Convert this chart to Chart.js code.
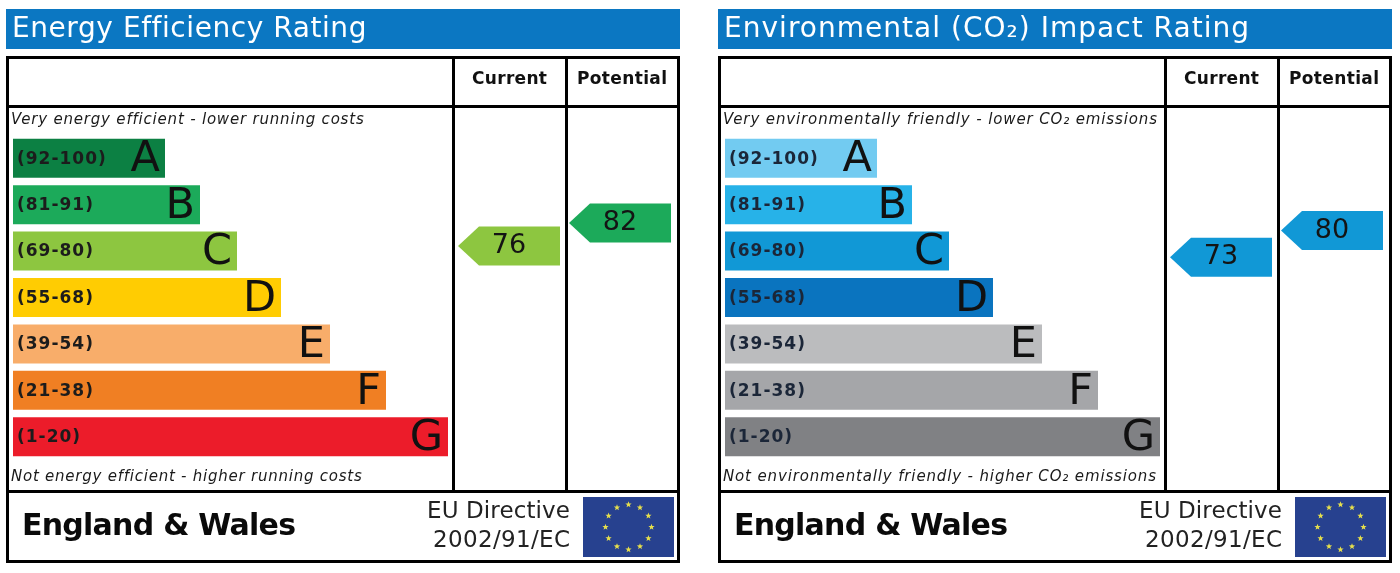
<!DOCTYPE html>
<html>
<head>
<meta charset="utf-8">
<script src="https://cdn.jsdelivr.net/npm/chart.js@4.4.1/dist/chart.umd.min.js"></script>
<style>
  html, body { margin: 0; padding: 0; background: #fff; overflow: hidden; }
  .panel { position: absolute; top: 0; width: 688px; height: 573px; }
  #energyPanel { left: 0; }
  #envPanel { left: 712px; }
</style>
</head>
<body>
<div class="panel" id="energyPanel"><canvas id="energyChart" width="688" height="573"></canvas></div>
<div class="panel" id="envPanel"><canvas id="envChart" width="688" height="573"></canvas></div>
<script>
// Bands and their score ranges
const bands = ['A', 'B', 'C', 'D', 'E', 'F', 'G'];
const bandRanges = ['(92-100)', '(81-91)', '(69-80)', '(55-68)', '(39-54)', '(21-38)', '(1-20)'];
// Bar lengths as drawn on the label (same for both charts)
const barLengths = [152, 187, 224, 268, 317, 373, 435];

const energyColors = ['#0c8043', '#1caa5a', '#8dc640', '#ffcc02', '#f8ad6a', '#f07f23', '#ec1c2a'];
const co2Colors = ['#72cbf1', '#27b2e8', '#1198d6', '#0a74bf', '#bbbcbe', '#a5a6a9', '#808184'];

// Ratings: [current, potential]
const energyRatings = [76, 82];
const co2Ratings = [73, 80];

const FONT = '"DejaVu Sans", Verdana, sans-serif';

// Draw text stretched or squeezed to a given width with letter spacing
function fitText(ctx, text, x, y, width) {
    ctx.letterSpacing = '0px';
    const w = ctx.measureText(text).width;
    const gap = (width - w) / Math.max(text.length - 1, 1);
    ctx.letterSpacing = gap + 'px';
    ctx.textAlign = 'left';
    ctx.fillText(text, x, y);
    ctx.letterSpacing = '0px';
}

function drawStar(ctx, cx, cy, r) {
    ctx.beginPath();
    for (let i = 0; i < 10; i++) {
        const rad = i % 2 === 0 ? r : r * 0.42;
        const a = -Math.PI / 2 + i * Math.PI / 5;
        ctx.lineTo(cx + rad * Math.cos(a), cy + rad * Math.sin(a));
    }
    ctx.closePath();
    ctx.fill();
}

function drawEuFlag(ctx, x, y, w, h) {
    ctx.fillStyle = '#27418f';
    ctx.fillRect(x, y, w, h);
    ctx.fillStyle = '#e6df4c';
    const cx = x + w / 2, cy = y + h / 2;
    for (let i = 0; i < 12; i++) {
        const a = i * Math.PI / 6;
        drawStar(ctx, cx + 23 * Math.cos(a), cy + 22.5 * Math.sin(a), 3.3);
    }
}

// Plugin that draws the frame, labels, arrows and footer around the bars
function epcPlugin(cfg) {
    return {
        id: 'epc',
        beforeDraw(chart) {
            const ctx = chart.ctx;
            ctx.save();
            ctx.fillStyle = '#0b77c2';
            ctx.fillRect(6, 9, 674, 40);
            ctx.fillStyle = '#ffffff';
            ctx.font = '28px ' + FONT;
            ctx.textBaseline = 'middle';
            fitText(ctx, cfg.title, 12, 30, cfg.titleWidth);
            ctx.restore();
        },
        afterDatasetsDraw(chart) {
            const ctx = chart.ctx;
            const meta = chart.getDatasetMeta(0);
            ctx.save();
            ctx.textBaseline = 'middle';

            // band labels on the bars
            meta.data.forEach((bar, i) => {
                ctx.fillStyle = cfg.labelColor;
                ctx.font = 'bold 17px ' + FONT;
                ctx.letterSpacing = '1px';
                ctx.textAlign = 'left';
                ctx.fillText(bandRanges[i], bar.base + 4, bar.y + 1);
                ctx.letterSpacing = '0px';
                ctx.fillStyle = '#111111';
                ctx.font = '43px ' + FONT;
                ctx.textAlign = 'right';
                ctx.fillText(bands[i], bar.x - 5, bar.y + 2);
            });

            // rating arrows placed through the rating scale
            const rating = chart.scales.rating;
            const arrowLeft = [458, 569];
            cfg.ratings.forEach((val, i) => {
                const yc = rating.getPixelForValue(val);
                const x0 = arrowLeft[i], w = 102, h = 39, tip = 21;
                ctx.fillStyle = cfg.arrowColors[i];
                ctx.beginPath();
                ctx.moveTo(x0, yc);
                ctx.lineTo(x0 + tip, yc - h / 2);
                ctx.lineTo(x0 + w, yc - h / 2);
                ctx.lineTo(x0 + w, yc + h / 2);
                ctx.lineTo(x0 + tip, yc + h / 2);
                ctx.closePath();
                ctx.fill();
                ctx.fillStyle = '#141414';
                ctx.font = '27px ' + FONT;
                ctx.textAlign = 'center';
                ctx.fillText(String(val), x0 + w / 2, yc);
            });

            // frame and grid lines
            ctx.strokeStyle = '#000000';
            ctx.lineWidth = 3;
            ctx.strokeRect(7.5, 57.5, 671, 504);
            ctx.beginPath();
            ctx.moveTo(6, 106.5); ctx.lineTo(680, 106.5);
            ctx.moveTo(6, 491.5); ctx.lineTo(680, 491.5);
            ctx.moveTo(453.5, 56); ctx.lineTo(453.5, 491);
            ctx.moveTo(566.5, 56); ctx.lineTo(566.5, 491);
            ctx.stroke();

            // header
            ctx.fillStyle = '#111111';
            ctx.font = 'bold 17px ' + FONT;
            fitText(ctx, 'Current', 472, 80, 75);
            fitText(ctx, 'Potential', 577, 80, 90);

            // notes above and below the bars
            ctx.fillStyle = '#1a1a1a';
            ctx.font = 'italic 15px ' + FONT;
            fitText(ctx, cfg.topNote, 11, 120, cfg.topWidth);
            fitText(ctx, cfg.bottomNote, 11, 477, cfg.bottomWidth);

            // footer
            ctx.fillStyle = '#0a0a0a';
            ctx.font = 'bold 30px ' + FONT;
            fitText(ctx, 'England & Wales', 22, 527, 274);
            ctx.fillStyle = '#222222';
            ctx.font = '23px ' + FONT;
            fitText(ctx, 'EU Directive', 427, 512, 143);
            fitText(ctx, '2002/91/EC', 433, 541, 137);
            drawEuFlag(ctx, 583, 497, 91, 60);

            ctx.restore();
        }
    };
}

function makeChart(canvasId, colors, cfg) {
    return new Chart(document.getElementById(canvasId), {
        type: 'bar',
        data: {
            labels: bands,
            datasets: [{
                data: barLengths,
                backgroundColor: colors,
                barPercentage: 0.84,
                categoryPercentage: 1,
                yAxisID: 'y'
            }]
        },
        options: {
            indexAxis: 'y',
            responsive: false,
            animation: false,
            layout: { padding: { left: 13, right: 235, top: 135, bottom: 113 } },
            plugins: { legend: { display: false }, tooltip: { enabled: false } },
            scales: {
                x: { display: false, min: 0, max: 440 },
                y: { display: false },
                // hidden rating axis used to place the arrows (offset off, else it inherits the category default)
                rating: { type: 'linear', axis: 'y', position: 'left', display: false, offset: false, min: 20, max: 105 }
            }
        },
        plugins: [epcPlugin(cfg)]
    });
}

makeChart('energyChart', energyColors, {
    title: 'Energy Efficiency Rating',
    titleWidth: 354,
    topNote: 'Very energy efficient - lower running costs',
    topWidth: 353,
    bottomNote: 'Not energy efficient - higher running costs',
    bottomWidth: 351,
    labelColor: '#1c1c1c',
    ratings: energyRatings,
    arrowColors: [energyColors[2], energyColors[1]]
});

makeChart('envChart', co2Colors, {
    title: 'Environmental (CO\u2082) Impact Rating',
    titleWidth: 525,
    topNote: 'Very environmentally friendly - lower CO\u2082 emissions',
    topWidth: 434,
    bottomNote: 'Not environmentally friendly - higher CO\u2082 emissions',
    bottomWidth: 433,
    labelColor: '#1b2638',
    ratings: co2Ratings,
    arrowColors: [co2Colors[2], co2Colors[2]]
});
</script>
</body>
</html>
